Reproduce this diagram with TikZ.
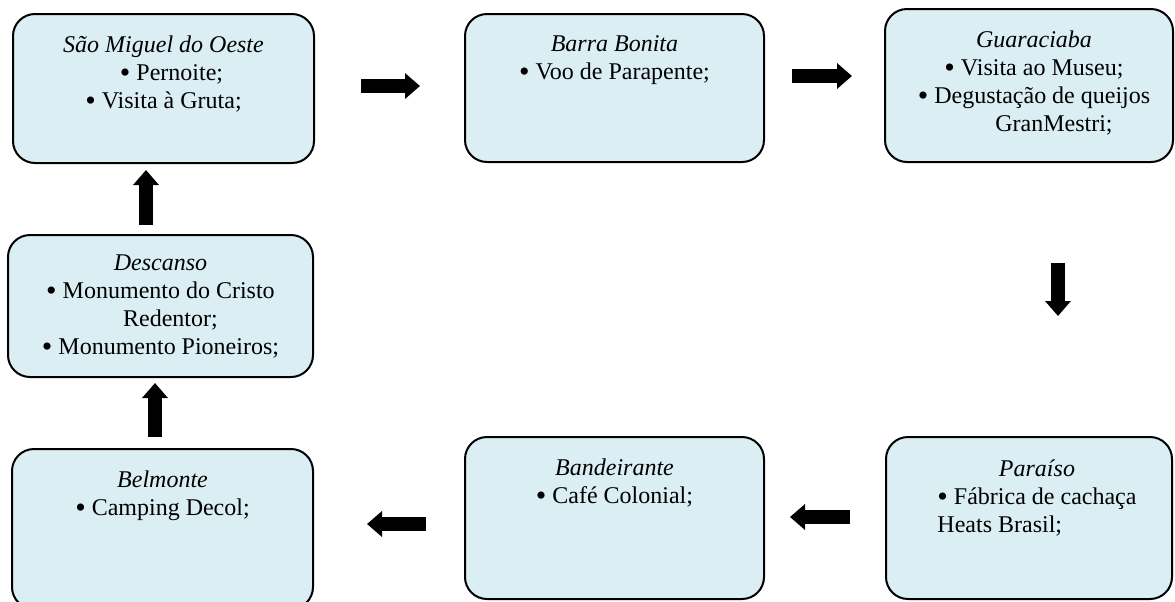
\documentclass[tikz,border=0pt]{standalone}
\usepackage{fontspec}
\setmainfont{Liberation Serif}
\usepackage{tikz}
\usetikzlibrary{arrows.meta}

\definecolor{boxblue}{RGB}{218,238,243}
\newcommand{\bul}{\raisebox{-1.1pt}[0pt][0pt]{\fontsize{15pt}{14pt}\selectfont\textbullet}}

\tikzset{
  city/.style={draw=black, line width=1pt, fill=boxblue, rounded corners=11pt, inner sep=0pt},
  citytext/.style={anchor=north, align=center, inner sep=0pt, font=\fontsize{12pt}{14pt}\selectfont},
  blockarrow/.style={line width=7pt, -{Triangle[length=7.5pt,width=12.5pt]}}
}

\begin{document}
\begin{tikzpicture}[x=0.5pt, y=-0.5pt]
  \useasboundingbox (0,0) rectangle (1175,601);
  \clip (0,0) rectangle (1175,601);

  % boxes
  \node[city, minimum width=150.5pt, minimum height=74.5pt] (saomiguel) at (163.5,88.5) {};
  \node[city, minimum width=149.5pt, minimum height=74pt] (barrabonita) at (614.5,88) {};
  \node[city, minimum width=144pt, minimum height=76.5pt] (guaraciaba) at (1029,85.5) {};
  \node[city, minimum width=152.5pt, minimum height=71pt] (descanso) at (160.5,306) {};
  \node[city, minimum width=150.5pt, minimum height=80pt] (belmonte) at (162.5,529) {};
  \node[city, minimum width=149.5pt, minimum height=81pt] (bandeirante) at (614.5,518) {};
  \node[city, minimum width=143pt, minimum height=81pt] (paraiso) at (1029,518) {};

  % texts
  \node[citytext] (saomiguel-t) at ([yshift=-11pt]saomiguel.north)
    {\textit{São Miguel do Oeste}\\ \hspace*{8pt}\bul\ Pernoite;\\ \bul\ Visita à Gruta;};
  \node[citytext] (barrabonita-t) at ([yshift=-11pt]barrabonita.north)
    {\textit{Barra Bonita}\\ \bul\ Voo de Parapente;};
  \node[citytext] (guaraciaba-t) at ([shift={(2.5pt,-11pt)}]guaraciaba.north)
    {\textit{Guaraciaba}\\ \bul\ Visita ao Museu;\\ \bul\ Degustação de queijos\\ \hspace*{20pt}GranMestri;};
  \node[citytext] (descanso-t) at ([yshift=-10pt]descanso.north)
    {\textit{Descanso}\\ \bul\ Monumento do Cristo\\ \hspace*{10pt}Redentor;\\ \bul\ Monumento Pioneiros;};
  \node[citytext] (belmonte-t) at ([yshift=-11pt]belmonte.north)
    {\textit{Belmonte}\\ \bul\ Camping Decol;};
  \node[citytext] (bandeirante-t) at ([yshift=-11pt]bandeirante.north)
    {\textit{Bandeirante}\\ \bul\ Café Colonial;};
  \node[citytext] (paraiso-t) at ([shift={(4pt,-11.5pt)}]paraiso.north)
    {\textit{Paraíso}\\ \begin{tabular}[t]{@{}l@{}}\bul\ Fábrica de cachaça\\ Heats Brasil;\end{tabular}};

  % route
  \draw[blockarrow] ([shift={(23pt,1.25pt)}]saomiguel.east) -- ([shift={(-22pt,1pt)}]barrabonita.west);
  \draw[blockarrow] ([shift={(13.5pt,6pt)}]barrabonita.east) -- ([shift={(-16pt,4.75pt)}]guaraciaba.west);
  \draw[blockarrow] ([shift={(14.5pt,-50pt)}]guaraciaba.south) -- ([shift={(14.5pt,60pt)}]paraiso.north);
  \draw[blockarrow] ([shift={(-17.5pt,0.5pt)}]paraiso.west) -- ([shift={(12.5pt,0.5pt)}]bandeirante.east);
  \draw[blockarrow] ([shift={(-19pt,-3pt)}]bandeirante.west) -- ([shift={(26.5pt,2.5pt)}]belmonte.east);
  \draw[blockarrow] ([shift={(-3.75pt,5.5pt)}]belmonte.north) -- ([shift={(-2.75pt,-2.5pt)}]descanso.south);
  \draw[blockarrow] ([shift={(-7.25pt,4.5pt)}]descanso.north) -- ([shift={(-8.75pt,-3pt)}]saomiguel.south);
\end{tikzpicture}
\end{document}
